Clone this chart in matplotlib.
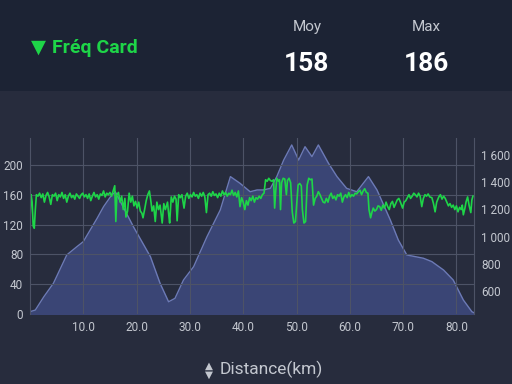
import matplotlib.pyplot as plt
from matplotlib.ticker import FuncFormatter
from matplotlib.patches import Rectangle

plt.rcParams['font.family'] = ['Roboto', 'DejaVu Sans']

# elevation profile (m)
elev_km = [0, 1.0, 2.6, 4.4, 6.9, 8.8, 10.0, 11.3, 12.6, 13.8, 15.1, 16.0, 19.4, 22.6,
           24.4, 26.0, 27.2, 28.8, 30.7, 33.2, 35.7, 37.6, 39.4, 41.3, 42.6, 43.8, 45.1,
           46.3, 47.6, 49.1, 50.4, 51.6, 52.9, 54.1, 56.0, 57.6, 59.4, 61.3, 63.5, 65.1,
           67.6, 69.1, 70.7, 73.8, 75.4, 77.6, 79.4, 81.3, 82.9, 83.3]
elev_m = [448, 460, 558, 657, 865, 926, 963, 1049, 1135, 1220, 1293, 1330, 1073, 852,
          657, 521, 546, 681, 779, 999, 1196, 1441, 1392, 1330, 1343, 1343, 1355,
          1441, 1563, 1674, 1563, 1661, 1588, 1674, 1539, 1441, 1355, 1330, 1441, 1343,
          1122, 975, 865, 841, 816, 754, 681, 534, 448, 440]

# heart rate (bpm)
hr_km = [0.0, 0.2, 0.4, 0.6, 0.8, 1.0, 1.2, 1.5, 1.8, 2.1, 2.4, 2.7, 3.0, 3.3, 3.6, 3.9,
         4.2, 4.5, 4.8, 5.1, 5.4, 5.7, 6.0, 6.3, 6.6, 6.9, 7.2, 7.5, 7.8, 8.1, 8.4, 8.7,
         9.0, 9.3, 9.6, 9.9, 10.2, 10.5, 10.8, 11.1, 11.4, 11.7, 12.0, 12.3, 12.6, 12.9,
         13.2, 13.5, 13.8, 14.1, 14.4, 14.7, 15.0, 15.3, 15.6, 15.9, 16.1, 16.3, 16.6,
         16.9, 17.2, 17.5, 17.8, 18.0, 18.3, 18.6, 18.9, 19.2, 19.5, 19.8, 20.1, 20.4,
         20.7, 21.0, 21.2, 21.5, 21.8, 22.1, 22.4, 22.7, 22.9, 23.2, 23.5, 23.8, 24.1,
         24.4, 24.8, 25.1, 25.4, 25.8, 26.0, 26.2, 26.5, 26.8, 27.1, 27.4, 27.6, 27.9,
         28.2, 28.5, 28.9, 29.2, 29.5, 29.8, 30.1, 30.4, 30.7, 31.0, 31.3, 31.6, 31.9,
         32.2, 32.5, 32.8, 33.1, 33.4, 33.7, 34.0, 34.3, 34.6, 34.9, 35.2, 35.5, 35.8,
         36.1, 36.4, 36.7, 37.0, 37.3, 37.6, 37.9, 38.2, 38.5, 38.8, 39.1, 39.4, 39.7,
         40.0, 40.3, 40.6, 40.9, 41.2, 41.5, 41.8, 42.1, 42.4, 42.7, 43.0, 43.3, 43.6,
         43.9, 44.2, 44.5, 44.8, 45.1, 45.4, 45.7, 45.9, 46.1, 46.3, 46.6, 46.8, 47.0,
         47.2, 47.5, 47.8, 48.1, 48.3, 48.6, 48.9, 49.2, 49.5, 49.8, 50.0, 50.3, 50.6,
         50.9, 51.1, 51.4, 51.7, 52.0, 52.3, 52.6, 52.9, 53.2, 53.5, 53.8, 54.1, 54.4,
         54.7, 55.0, 55.3, 55.6, 55.9, 56.2, 56.5, 56.8, 57.1, 57.4, 57.7, 58.0, 58.3,
         58.6, 58.9, 59.2, 59.5, 59.8, 60.1, 60.4, 60.7, 61.0, 61.3, 61.6, 61.9, 62.2,
         62.5, 62.8, 63.1, 63.4, 63.6, 63.9, 64.1, 64.4, 64.7, 65.0, 65.3, 65.6, 65.9,
         66.2, 66.5, 66.8, 67.1, 67.4, 67.7, 68.0, 68.3, 68.6, 68.9, 69.2, 69.5, 69.9,
         70.2, 70.5, 70.8, 71.1, 71.4, 71.7, 72.0, 72.3, 72.6, 72.9, 73.2, 73.5, 73.8,
         74.1, 74.4, 74.7, 75.0, 75.4, 75.7, 76.0, 76.3, 76.7, 77.0, 77.3, 77.6, 77.9,
         78.2, 78.5, 78.8, 79.1, 79.4, 79.7, 80.0, 80.3, 80.6, 80.9, 81.1, 81.3, 81.6,
         81.8, 82.1, 82.4, 82.7, 82.9, 83.1]
hr_bpm = [128, 160, 150, 118, 115, 140, 160, 158, 162, 156, 161, 150, 159, 163, 157, 147,
          160, 158, 162, 152, 160, 157, 163, 155, 160, 150, 158, 162, 156, 159, 154, 161,
          158, 155, 160, 162, 157, 160, 155, 161, 152, 158, 163, 157, 160, 154,
          161, 159, 165, 157, 162, 160, 163, 158, 165, 172, 124, 160, 163,
          150, 158, 140, 155, 130, 138, 162, 150, 158, 145, 151, 142, 150,
          138, 135, 129, 140, 152, 160, 165, 150, 138, 145, 124, 150, 140,
          146, 122, 148, 140, 150, 135, 122, 157, 150, 158, 154, 125, 160,
          156, 160, 142, 158, 162, 155, 160, 157, 163, 158, 160, 155, 162,
          158, 163, 157, 136, 160, 162, 158, 164, 159, 161, 156, 162, 158,
          165, 160, 163, 158, 162, 160, 166, 159, 163, 157, 165, 144, 156,
          150, 140, 152, 146, 156, 152, 158, 150, 156, 154, 158, 155, 160,
          162, 180, 178, 182, 179, 178, 180, 142, 165, 182, 178, 180, 140,
          176, 182, 181, 160, 179, 182, 176, 137, 122, 124, 143, 173, 175,
          172, 140, 122, 124, 173, 182, 180, 181, 146, 155, 158, 164, 160,
          155, 150, 149, 155, 150, 158, 162, 155, 158, 153, 160, 158, 162,
          150, 157, 160, 156, 163, 157, 160, 158, 162, 161, 164, 166, 160,
          165, 168, 163, 162, 140, 129, 135, 142, 138, 140, 145, 144, 139,
          146, 142, 150, 144, 140, 148, 151, 143, 148, 153, 155, 150, 142,
          150, 152, 156, 160, 155, 158, 162, 160, 157, 162, 158, 144, 155,
          160, 158, 161, 157, 156, 148, 137, 150, 157, 160, 154, 158, 155,
          150, 145, 148, 143, 146, 140, 145, 137, 143, 140, 146, 133, 142,
          150, 157, 145, 136, 153, 158]

hr_ticks = [0, 40, 80, 120, 160, 200]
elev_ticks = [600, 800, 1000, 1200, 1400, 1600]
km_ticks = [10, 20, 30, 40, 50, 60, 70, 80]

bg = '#272c3d'
header_bg = '#1c2334'
grid_col = '#4d5366'
text_col = '#c3c7cf'
green = '#1ed548'

fig = plt.figure(figsize=(5.12, 3.84), dpi=100, facecolor=bg)
fig.patches.append(Rectangle((0, 384 - 91), 512, 91, transform=None,
                             facecolor=header_bg, edgecolor='none', zorder=0))

# header
fig.text(38.5 / 512, 1 - 47 / 384, '\u25bc', color=green, fontsize=14,
         family='DejaVu Sans', va='center', ha='center')
fig.text(52 / 512, 1 - 48 / 384, 'Fréq Card', color=green, fontsize=14,
         fontweight='bold', va='center', ha='left')
fig.text(307 / 512, 1 - 27 / 384, 'Moy', color=text_col, fontsize=11, ha='center', va='center')
fig.text(426 / 512, 1 - 27 / 384, 'Max', color=text_col, fontsize=11, ha='center', va='center')
fig.text(307 / 512, 1 - 64 / 384, '158', color='white', fontsize=19, fontweight='bold',
         ha='center', va='center')
fig.text(426 / 512, 1 - 64 / 384, '186', color='white', fontsize=19, fontweight='bold',
         ha='center', va='center')

ax = fig.add_axes([30 / 512, 1 - 314 / 384, 444 / 512, 176 / 384])
ax2 = ax.twinx()
ax.set_zorder(ax2.get_zorder() + 1)
ax.patch.set_visible(False)
ax2.set_facecolor(bg)

ax2.fill_between(elev_km, elev_m, 0, color='#3c4779', alpha=0.95, lw=0)
ax2.plot(elev_km, elev_m, color='#6c7ab6', lw=1)
ax2.set_ylim(431, 1725)
ax2.set_yticks(elev_ticks)
ax2.yaxis.set_major_formatter(FuncFormatter(lambda v, p: f'{int(v):,}'.replace(',', ' ')))

ax.plot(hr_km, hr_bpm, color=green, lw=1.2)
ax.set_xlim(0, 83.3)
ax.set_ylim(0, 236)
ax.set_yticks(hr_ticks)
ax.set_xticks(km_ticks)
ax.set_xticklabels([f'{k:.1f}' for k in km_ticks])
ax.grid(True, color=grid_col, lw=0.8)

for a in (ax, ax2):
    a.tick_params(length=0, colors=text_col, labelsize=8.5, pad=5)
    for s in a.spines.values():
        s.set_visible(False)
ax.spines['left'].set_visible(True)
ax.spines['left'].set_color(grid_col)
ax.spines['right'].set_visible(True)
ax.spines['right'].set_color(grid_col)

fig.text(209 / 512, 1 - 365.5 / 384, '\u25b2', color=text_col, fontsize=7.5,
         family='DejaVu Sans', ha='center', va='center')
fig.text(209 / 512, 1 - 374.5 / 384, '\u25bc', color=text_col, fontsize=7.5,
         family='DejaVu Sans', ha='center', va='center')
fig.text(220 / 512, 1 - 369 / 384, 'Distance(km)', color=text_col, fontsize=12.5,
         ha='left', va='center')

fig.savefig('out.png', dpi=100, facecolor=bg)
